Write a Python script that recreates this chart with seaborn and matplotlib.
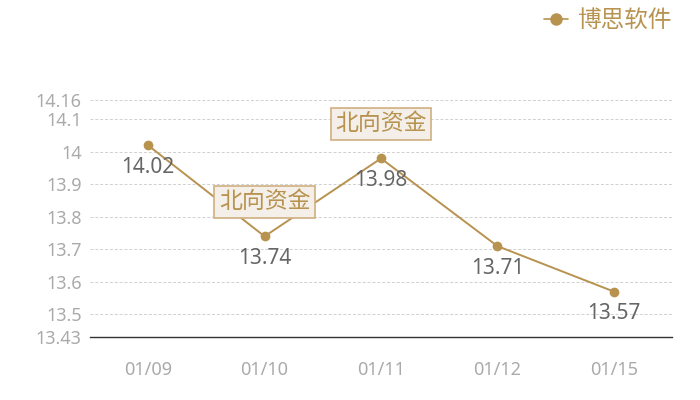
import matplotlib
matplotlib.use('Agg')
import matplotlib.pyplot as plt
import seaborn as sns
import pandas as pd
from matplotlib.lines import Line2D

# data
dates = ['01/09', '01/10', '01/11', '01/12', '01/15']
prices = [14.02, 13.74, 13.98, 13.71, 13.57]
y_ticks = [13.43, 13.5, 13.6, 13.7, 13.8, 13.9, 14.0, 14.1, 14.16]
y_tick_labels = ['13.43', '13.5', '13.6', '13.7', '13.8', '13.9', '14', '14.1', '14.16']
flag_dates = ['01/10', '01/11']
flag_text = '北向资金'
series_name = '博思软件'

GOLD = '#B8924F'

sns.set_theme(style='white')
plt.rcParams['font.family'] = ['Noto Sans', 'Noto Sans CJK SC', 'DejaVu Sans']

df = pd.DataFrame({'date': dates, 'price': prices})

fig = plt.figure(figsize=(7, 4), dpi=100)
ax = fig.add_axes([90 / 700, 63 / 400, 582 / 700, 237 / 400])

sns.lineplot(data=df, x='date', y='price', ax=ax, color=GOLD, marker='o',
             markersize=7, markeredgewidth=0, linewidth=1.4, sort=False)

ax.set_xlim(-0.5, len(dates) - 0.5)
ax.set_ylim(y_ticks[0], y_ticks[-1])
ax.set_yticks(y_ticks)
ax.set_yticklabels(y_tick_labels)
ax.set_xlabel('')
ax.set_ylabel('')
ax.tick_params(axis='both', length=0, labelsize=13, labelcolor='#AAAAAA')
ax.tick_params(axis='x', pad=17)
ax.tick_params(axis='y', pad=6)

for t in y_ticks[1:]:
    ax.axhline(t, color='#D0D0D0', linewidth=0.7, linestyle=(0, (3, 2)), zorder=0)

for side in ['top', 'right', 'left']:
    ax.spines[side].set_visible(False)
ax.spines['bottom'].set_color('#333333')
ax.spines['bottom'].set_linewidth(1.0)

# value labels under each point
for i, v in enumerate(prices):
    ax.annotate(f'{v:.2f}', (i, v), xytext=(0, -16), textcoords='offset points',
                ha='center', va='center', fontsize=15, color='#666666')

# event flags
for d in flag_dates:
    i = dates.index(d)
    ax.annotate(flag_text, (i, prices[i]), xytext=(0, 25), textcoords='offset points',
                ha='center', va='center', fontsize=16.5, color=GOLD, zorder=5,
                family=['Noto Sans CJK SC', 'DejaVu Sans'],
                bbox=dict(boxstyle='square,pad=0.2', facecolor='#F4EFE8',
                          edgecolor='#CFAF80', linewidth=1.2))

handle = Line2D([], [], color=GOLD, marker='o', markersize=9, linewidth=1.2,
                markeredgewidth=0)
fig.legend([handle], [series_name], loc='upper right', bbox_to_anchor=(0.99, 1.03),
           frameon=False, labelcolor=GOLD, handlelength=1.0, handletextpad=0.4,
           prop={'family': ['Noto Sans CJK SC', 'DejaVu Sans'], 'size': 17})

fig.savefig('out.png', dpi=100)
